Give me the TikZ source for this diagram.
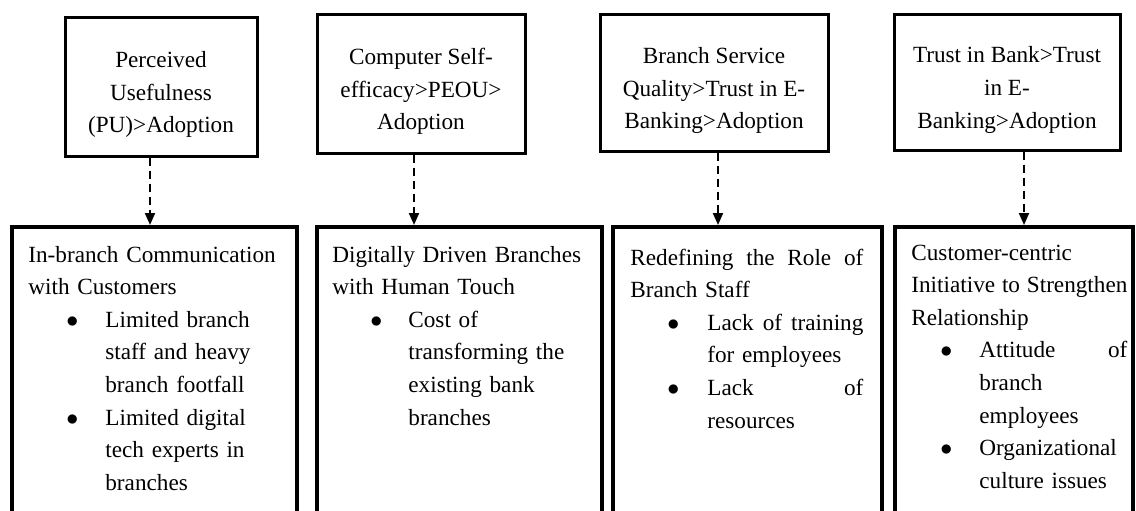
\documentclass[tikz,border=0pt]{standalone}
\usepackage{fontspec}
\setmainfont{Liberation Serif}
\usetikzlibrary{arrows.meta}

\newlength{\bulind}
\newlength{\txtind}
\newcommand{\bitem}{\hspace*{\bulind}\makebox[\dimexpr\txtind-\bulind\relax][l]{$\bullet$}}
\newcommand{\bcont}{\hspace*{\txtind}}
\newcommand{\jline}[2]{{\spaceskip=0pt\xspaceskip=0pt\makebox[#1][s]{#2}}}
\newcommand{\tstrut}{\rule{0pt}{16pt}}

\begin{document}
\begin{tikzpicture}[x=0.5pt, y=-0.5pt,
    every node/.style={font=\fontsize{11.6pt}{16.3pt}\selectfont},
    topbox/.style={draw, line width=1.5pt, align=center, inner sep=0pt},
    listbox/.style={draw, line width=2pt, minimum height=156.5pt},
    listtext/.style 2 args={anchor=base west, align=left, inner sep=0pt,
        execute at begin node={\setlength{\bulind}{#1}\setlength{\txtind}{#2}}},
    flow/.style={line width=1pt, dash pattern=on 4pt off 2.5pt,
        -{Triangle[length=6pt, width=5pt]}}]
    \useasboundingbox (0,0) rectangle (1136,510);
    \clip (0,0) rectangle (1136,510);

    % Constructs
    \node (t1) at (161,86.5) [topbox, minimum width=96pt, minimum height=69.5pt]
        {\tstrut Perceived\\Usefulness\\(PU)>Adoption};
    \node (t2) at (421,83.5) [topbox, minimum width=104pt, minimum height=69.5pt]
        {\tstrut Computer Self-\\efficacy>PEOU>\\Adoption};
    \node (t3) at (714,82.5) [topbox, minimum width=114pt, minimum height=68.5pt]
        {\tstrut Branch Service\\Quality>Trust in E-\\Banking>Adoption};
    \node (t4) at (1007,82) [topbox, minimum width=113pt, minimum height=68pt]
        {\tstrut Trust in Bank>Trust\\in E-\\Banking>Adoption};

    % Strategies and challenges
    \node (b1) at (154.5,383.5) [listbox, minimum width=142.5pt] {};
    \node (b2) at (459.5,383.5) [listbox, minimum width=142.5pt] {};
    \node (b3) at (747.5,383.5) [listbox, minimum width=134.5pt] {};
    \node (b4) at (1014,383.5) [listbox, minimum width=119pt] {};

    \node (b1txt) at (28,262) [listtext={19pt}{38.5pt}, text width=128.5pt]
        {In-branch Communication\\with Customers\\
         \bitem Limited branch\\\bcont staff and heavy\\\bcont branch footfall\\
         \bitem Limited digital\\\bcont tech experts in\\\bcont branches};
    \node (b2txt) at (332,262) [listtext={19pt}{38pt}, text width=129pt]
        {Digitally Driven Branches\\with Human Touch\\
         \bitem Cost of\\\bcont transforming the\\\bcont existing bank\\\bcont branches};
    \node (b3txt) at (630,265) [listtext={18.5pt}{38.5pt}, text width=116.5pt]
        {\jline{116.5pt}{Redefining the Role of}\\Branch Staff\\
         \bitem\jline{78pt}{Lack of training}\\\bcont for employees\\
         \bitem\jline{78pt}{Lack of}\\\bcont resources};
    \node (b4txt) at (911,260) [listtext={14.5pt}{34pt}, text width=108pt]
        {Customer-centric\\\jline{108pt}{Initiative to Strengthen}\\Relationship\\
         \bitem\jline{74pt}{Attitude of}\\\bcont branch\\\bcont employees\\
         \bitem Organizational\\\bcont culture issues};

    % Links
    \draw[flow] ([xshift=-5.5pt]t1.south) -- ([xshift=-5.5pt]t1.south |- b1.north);
    \draw[flow] ([xshift=-3.5pt]t2.south) -- ([xshift=-3.5pt]t2.south |- b2.north);
    \draw[flow] ([xshift=2pt]t3.south) -- ([xshift=2pt]t3.south |- b3.north);
    \draw[flow] ([xshift=8.5pt]t4.south) -- ([xshift=8.5pt]t4.south |- b4.north);
\end{tikzpicture}
\end{document}
